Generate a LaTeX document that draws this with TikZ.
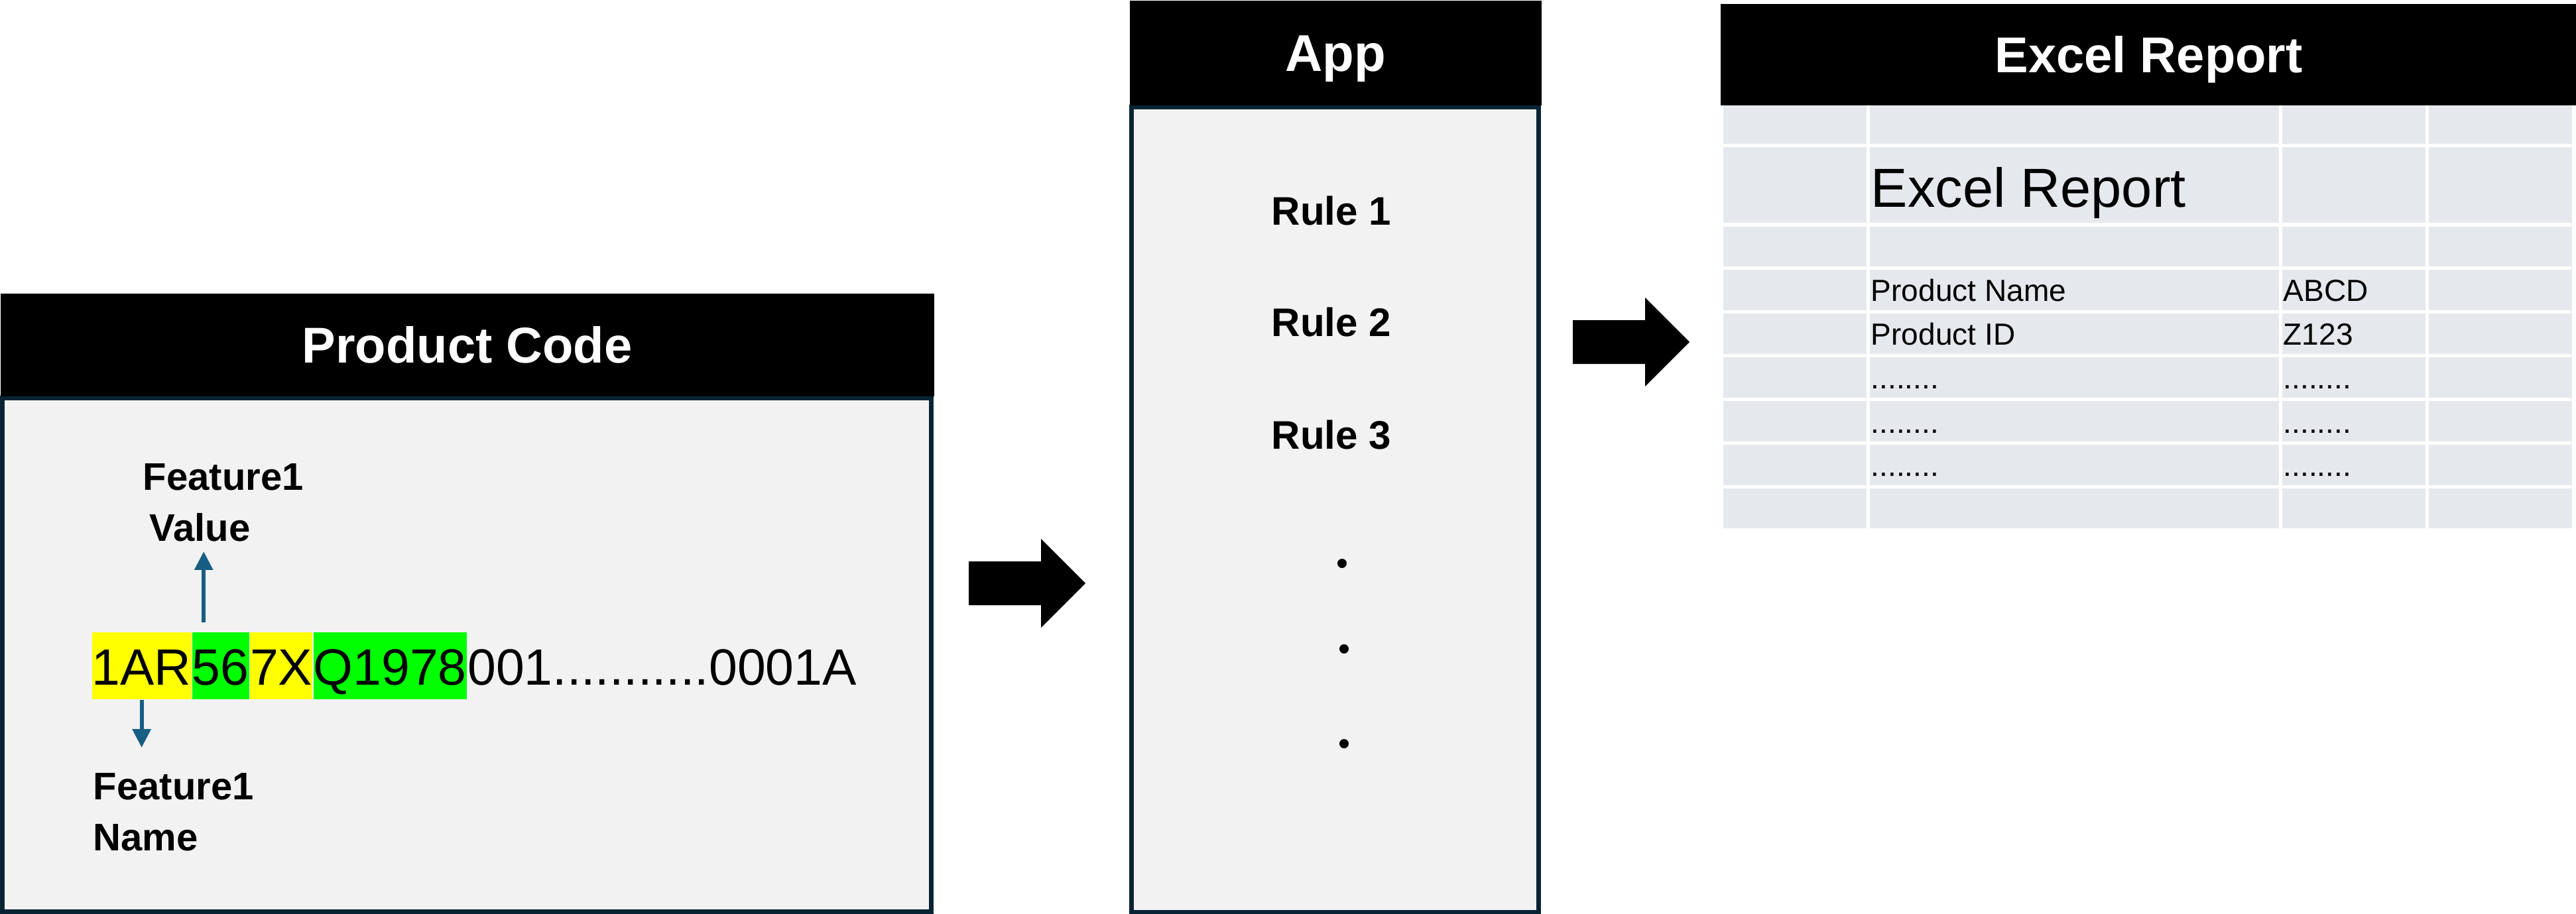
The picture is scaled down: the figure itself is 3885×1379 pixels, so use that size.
\documentclass[tikz,border=0pt]{standalone}
\usepackage{fontspec}
\setmainfont{Liberation Sans}
\usetikzlibrary{arrows.meta}
\definecolor{boxfill}{RGB}{242,242,242}
\definecolor{boxedge}{RGB}{8,36,52}
\definecolor{cellfill}{RGB}{229,232,236}
\definecolor{connblue}{RGB}{22,94,131}
\definecolor{hlyellow}{RGB}{255,255,0}
\definecolor{hlgreen}{RGB}{0,255,0}
\newcommand\fsz[2]{\fontsize{#1}{#2}\selectfont}
\begin{document}
\begin{tikzpicture}[x=0.01cm,y=-0.01cm,
  panelbody/.style={draw=boxedge, fill=boxfill, line width=0.07cm, anchor=north west, inner sep=0pt},
  panelhead/.style={fill=black, text=white, anchor=north west, inner sep=0pt,
    text height=0.55cm, text depth=0cm, font=\bfseries\fsz{21.6pt}{26pt}},
  seg/.style={inner xsep=0pt, inner ysep=0pt, text height=0.79cm, text depth=0.22cm,
    anchor=base west, font=\fsz{21.9pt}{26pt}},
  lbl/.style={font=\bfseries\fsz{16.5pt}{21.9pt}, inner xsep=0pt, align=left, anchor=north west},
  conn/.style={draw=connblue, line width=0.06cm, -{Triangle[width=0.27cm,length=0.28cm]}},
  rulelbl/.style={font=\bfseries\fsz{17.1pt}{20pt}, anchor=base, inner sep=0pt},
  dotmark/.style={circle, fill=black, inner sep=0pt, minimum size=0.14cm},
  celltext/.style={font=\fsz{13.1pt}{16pt}, anchor=base west, inner sep=0pt},
  gridline/.style={draw=white, line width=0.05cm},
  blockarrow/.pic={\fill[black] (0,-33) -- (109,-33) -- (109,-67) -- (176,0) -- (109,67) -- (109,33) -- (0,33) -- cycle;}
]
\fill[white] (0,0) rectangle (3885,1379);
\useasboundingbox (0,0) rectangle (3885,1379);

% ---------- Product Code panel ----------
\node[panelbody, minimum width=14cm, minimum height=7.75cm] (pcbody) at (0,597) {};
\node[panelhead, minimum width=14.07cm, minimum height=1.55cm] (pchead) at (0,442) {Product Code};

\node[seg, fill=hlyellow] (s1) at (138,1033) {1AR};
\node[seg, fill=hlgreen] (s2) at (s1.base east) {56};
\node[seg, fill=hlyellow] (s3) at (s2.base east) {7X};
\node[seg, fill=hlgreen] (s4) at (s3.base east) {Q1978};
\node[seg] (s5) at (s4.base east) {001...........0001A};

\node[lbl, inner ysep=0.14cm] (fv) at (215,685) {Feature1\\\hspace*{0.1cm}Value};
\node[lbl, inner ysep=0.38cm] (fn) at (140,1128) {Feature1\\Name};

\coordinate (upfoot) at ([xshift=0.18cm,yshift=0.14cm]s2.north west);
\draw[conn] (upfoot) -- (upfoot |- fv.south);
\draw[conn] (s1.south) -- (s1.south |- fn.north);

% ---------- arrows between panels ----------
\pic at (1461,880) {blockarrow};
\pic at (2372,516) {blockarrow};

% ---------- App panel ----------
\node[panelbody, minimum width=6.14cm, minimum height=12.14cm] (appbody) at (1703,158) {};
\node[panelhead, minimum width=6.21cm, minimum height=1.58cm, font=\bfseries\fsz{22.2pt}{26pt}] (apphead) at (1703,0) {App};
\node[rulelbl] (r1) at (2008,339) {Rule 1};
\node[rulelbl] (r2) at (2008,507) {Rule 2};
\node[rulelbl] (r3) at (2008,677) {Rule 3};
\node[dotmark] (d1) at (2024,850) {};
\node[dotmark] (d2) at (2027,979) {};
\node[dotmark] (d3) at (2027,1122) {};

% ---------- Excel Report panel ----------
\node[fill=cellfill, anchor=north west, inner sep=0pt, outer sep=0pt,
      minimum width=12.79cm, minimum height=6.39cm] (grid) at (2599,158) {};
\foreach \gx in {2817,3439,3660} \draw[gridline] (\gx,158) -- (\gx,797);
\foreach \gy in {219.5,339,404,470,536,602,668,734} \draw[gridline] (2599,\gy) -- (3878,\gy);
\node[panelhead, minimum width=12.91cm, minimum height=1.53cm] (xlhead) at (2594,5) {Excel Report};

\node[celltext, font=\fsz{23.6pt}{28pt}] (xltitle) at (2821,312) {Excel Report};
\node[celltext] (pn) at (2821,454) {Product Name};
\node[celltext] (pnv) at (3443,454) {ABCD};
\node[celltext] (pid) at (2821,520) {Product ID};
\node[celltext] (pidv) at (3443,520) {Z123};
\node[celltext] (e1) at (2821,586) {........};
\node[celltext] (e1v) at (3443,586) {........};
\node[celltext] (e2) at (2821,653) {........};
\node[celltext] (e2v) at (3443,653) {........};
\node[celltext] (e3) at (2821,718) {........};
\node[celltext] (e3v) at (3443,718) {........};
\end{tikzpicture}
\end{document}
